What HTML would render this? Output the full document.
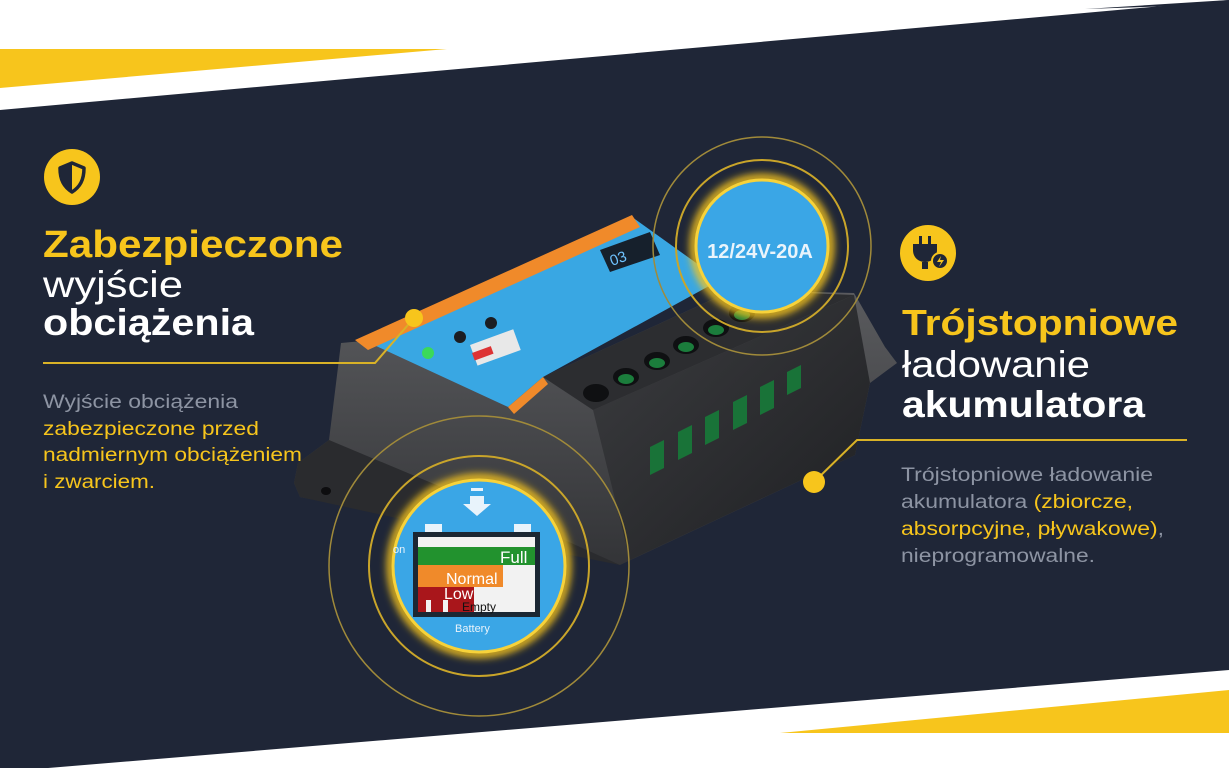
<!DOCTYPE html>
<html><head><meta charset="utf-8"><style>
html,body{margin:0;padding:0;width:1229px;height:768px;overflow:hidden;background:#fff}
svg{display:block}
</style></head><body>
<svg width="1229" height="768" viewBox="0 0 1229 768" xmlns="http://www.w3.org/2000/svg" font-family="Liberation Sans, DejaVu Sans, sans-serif">
<defs>
<filter id="glow" x="-30%" y="-30%" width="160%" height="160%"><feGaussianBlur stdDeviation="4"/></filter>
<linearGradient id="side" x1="0" y1="0" x2="1" y2="1"><stop offset="0" stop-color="#3c3d40"/><stop offset="1" stop-color="#1e1f22"/></linearGradient>
<linearGradient id="left" x1="0" y1="0" x2="0" y2="1"><stop offset="0" stop-color="#5a5b5e"/><stop offset="1" stop-color="#333437"/></linearGradient>
</defs>
<rect width="1229" height="768" fill="#fff"/>
<polygon points="0,110 1229,0 1229,670 0,772" fill="#1f2637"/>
<polygon points="0,49 447,49 0,88" fill="#f7c51c"/>
<polygon points="1085,9 1229,0 1229,4" fill="#1f2637"/>
<polygon points="780,733 1229,690 1229,733" fill="#f7c51c"/>

<!-- device body -->
<polygon points="341,343 374,340 508,407 543,377 733,290 854,293 885,347 897,363 870,383 855,455 620,565 520,540 300,497 294,483 298,463 329,440" fill="url(#left)"/>
<polygon points="329,440 520,520 620,565 520,545 300,497 294,483 298,463" fill="#2a2b2e"/>
<polygon points="593,410 854,295 870,383 855,455 630,560" fill="url(#side)"/>
<polygon points="543,377 733,290 854,295 593,410" fill="#2c2d30"/>
<polygon points="368,337 632,217 720,280 543,377 508,407 374,345" fill="#39a7e3"/>
<polygon points="355,340 632,215 640,227 368,350" fill="#f08a2a"/>
<polygon points="508,407 543,377 548,384 514,414" fill="#f08a2a"/>
<polygon points="600,250 650,232 660,255 610,272" fill="#16202c"/>
<text x="612" y="266" fill="#6fc3ff" font-size="15" transform="rotate(-20 612 266)">03</text>
<circle cx="428" cy="353" r="6" fill="#3bd95a"/>
<circle cx="460" cy="337" r="6" fill="#1b1d22"/>
<circle cx="491" cy="323" r="6" fill="#1b1d22"/>
<rect x="470" y="345" width="46" height="22" fill="#e8e8e8" transform="rotate(-20 470 345)"/>
<rect x="472" y="353" width="20" height="8" fill="#d33" transform="rotate(-20 472 353)"/>
<g fill="#0f1012"><ellipse cx="596" cy="393" rx="13" ry="9"/><ellipse cx="626" cy="377" rx="13" ry="9"/><ellipse cx="657" cy="361" rx="13" ry="9"/><ellipse cx="686" cy="345" rx="13" ry="9"/><ellipse cx="716" cy="328" rx="13" ry="9"/><ellipse cx="742" cy="313" rx="13" ry="9"/></g>
<g fill="#1b7d3c"><ellipse cx="626" cy="379" rx="8" ry="5"/><ellipse cx="657" cy="363" rx="8" ry="5"/><ellipse cx="686" cy="347" rx="8" ry="5"/><ellipse cx="716" cy="330" rx="8" ry="5"/><ellipse cx="742" cy="315" rx="8" ry="5"/></g>
<g fill="#197338">
<polygon points="650,447 664,440 664,468 650,475"/><polygon points="678,432 692,425 692,453 678,460"/><polygon points="705,417 719,410 719,438 705,445"/><polygon points="733,402 747,395 747,423 733,430"/><polygon points="760,387 774,380 774,408 760,415"/><polygon points="787,372 801,365 801,388 787,395"/>
</g>
<ellipse cx="326" cy="491" rx="5" ry="4" fill="#0d0d0f"/>

<!-- top circle -->
<circle cx="762" cy="246" r="109" fill="none" stroke="#a08a3a" stroke-width="1.5"/>
<circle cx="762" cy="246" r="86" fill="none" stroke="#c9a52a" stroke-width="2"/>
<circle cx="762" cy="246" r="68" fill="none" stroke="#f7c51c" stroke-width="8" filter="url(#glow)"/>
<circle cx="762" cy="246" r="66" fill="#3aa6e6" stroke="#f7d23a" stroke-width="3"/>
<text x="760" y="258" fill="#eaf4fb" font-size="20" font-weight="bold" text-anchor="middle">12/24V-20A</text>

<!-- bottom circle -->
<circle cx="479" cy="566" r="150" fill="none" stroke="#a08a3a" stroke-width="1.5"/>
<circle cx="479" cy="566" r="110" fill="none" stroke="#c9a52a" stroke-width="2"/>
<circle cx="479" cy="566" r="88" fill="none" stroke="#f7c51c" stroke-width="8" filter="url(#glow)"/>
<circle cx="479" cy="566" r="86" fill="#3aa6e6" stroke="#f7d23a" stroke-width="3"/>
<rect x="471" y="488" width="12" height="3" fill="#e8f3fb"/>
<polygon points="470,496 484,496 484,504 491,504 477,516 463,504 470,504" fill="#e8f3fb"/>
<rect x="425" y="524" width="17" height="9" fill="#e8f3fb"/>
<rect x="514" y="524" width="17" height="9" fill="#e8f3fb"/>
<rect x="413" y="532" width="127" height="85" fill="#1b2733"/>
<rect x="418" y="537" width="117" height="75" fill="#f2f2f2"/>
<rect x="418" y="547" width="117" height="18" fill="#22922e"/>
<rect x="418" y="565" width="85" height="22" fill="#f08a2a"/>
<rect x="418" y="587" width="56" height="25" fill="#a9161b"/>
<rect x="426" y="600" width="5" height="12" fill="#f2f2f2"/>
<rect x="443" y="600" width="5" height="12" fill="#f2f2f2"/>
<text x="500" y="563" fill="#fff" font-size="17">Full</text>
<text x="446" y="584" fill="#fff" font-size="16">Normal</text>
<text x="444" y="599" fill="#fff" font-size="16">Low</text>
<text x="462" y="611" fill="#111" font-size="12">Empty</text>
<text x="455" y="632" fill="#e8f3fb" font-size="11">Battery</text>
<text x="393" y="553" fill="#e8f3fb" font-size="11">on</text>

<!-- left text block -->
<circle cx="72" cy="177" r="28" fill="#f7c51c"/>
<path d="M72 163 L84 168 C84 180 80 187 72 192 C64 187 60 180 60 168 Z" fill="none" stroke="#1f2637" stroke-width="3.5" stroke-linejoin="round"/>
<path d="M72 163 L72 192 C64 187 60 180 60 168 Z" fill="#1f2637"/>
<text x="43" y="257" fill="#f7c51c" font-size="38" font-weight="bold" textLength="300" lengthAdjust="spacingAndGlyphs">Zabezpieczone</text>
<text x="43" y="297" fill="#fff" font-size="37" textLength="140" lengthAdjust="spacingAndGlyphs">wyjście</text>
<text x="43" y="335" fill="#fff" font-size="37" font-weight="bold" textLength="211" lengthAdjust="spacingAndGlyphs">obciążenia</text>
<polyline points="43,363 375,363 414,318" fill="none" stroke="#d9b227" stroke-width="2"/>
<circle cx="414" cy="318" r="9" fill="#f7c51c"/>
<g font-size="19">
<text x="43" y="408" fill="#8d94a3" textLength="195" lengthAdjust="spacingAndGlyphs">Wyjście obciążenia</text>
<text x="43" y="435" fill="#f7c51c" textLength="216" lengthAdjust="spacingAndGlyphs">zabezpieczone przed</text>
<text x="43" y="461" fill="#f7c51c" textLength="259" lengthAdjust="spacingAndGlyphs">nadmiernym obciążeniem</text>
<text x="43" y="488" fill="#f7c51c" textLength="112" lengthAdjust="spacingAndGlyphs">i zwarciem.</text>
</g>

<!-- right text block -->
<circle cx="928" cy="253" r="28" fill="#f7c51c"/>
<rect x="919" y="236" width="3" height="8" fill="#1f2637"/><rect x="928" y="236" width="3" height="8" fill="#1f2637"/>
<path d="M913 244 L937 244 L937 250 C937 258 931 262 925 262 C919 262 913 258 913 250 Z" fill="#1f2637"/>
<rect x="922" y="262" width="6" height="7" fill="#1f2637"/>
<circle cx="940" cy="261" r="8" fill="#1f2637" stroke="#f7c51c" stroke-width="2"/>
<path d="M941 256 L937 262 L941 262 L939 267 L944 260 L940 260 Z" fill="#f7c51c"/>
<text x="902" y="335" fill="#f7c51c" font-size="36" font-weight="bold" textLength="276" lengthAdjust="spacingAndGlyphs">Trójstopniowe</text>
<text x="902" y="377" fill="#fff" font-size="37" textLength="188" lengthAdjust="spacingAndGlyphs">ładowanie</text>
<text x="902" y="417" fill="#fff" font-size="37" font-weight="bold" textLength="243" lengthAdjust="spacingAndGlyphs">akumulatora</text>
<polyline points="1187,440 857,440 814,482" fill="none" stroke="#d9b227" stroke-width="2"/>
<circle cx="814" cy="482" r="11" fill="#f7c51c"/>
<g font-size="19">
<text x="901" y="481" fill="#8d94a3" textLength="252" lengthAdjust="spacingAndGlyphs">Trójstopniowe ładowanie</text>
<text x="901" y="508" fill="#8d94a3" textLength="232" lengthAdjust="spacingAndGlyphs">akumulatora <tspan fill="#f7c51c">(zbiorcze,</tspan></text>
<text x="901" y="535" fill="#f7c51c" textLength="263" lengthAdjust="spacingAndGlyphs">absorpcyjne, pływakowe)<tspan fill="#8d94a3">,</tspan></text>
<text x="901" y="562" fill="#8d94a3" textLength="194" lengthAdjust="spacingAndGlyphs">nieprogramowalne.</text>
</g>
</svg>
</body></html>
